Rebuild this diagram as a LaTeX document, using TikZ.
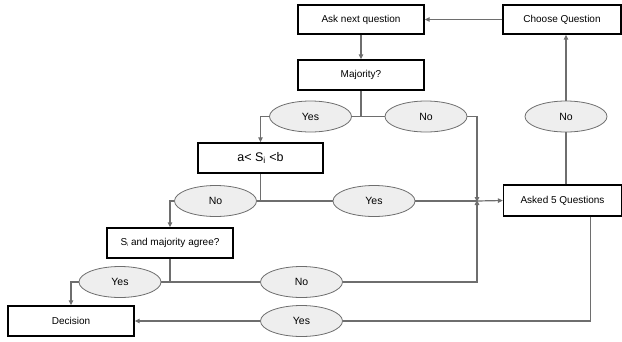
\documentclass[tikz,border=0pt]{standalone}
\usepackage{fontspec}
\setmainfont{Liberation Sans}
\usetikzlibrary{arrows.meta,shapes.geometric}
\definecolor{linegray}{HTML}{6E6E6E}
\definecolor{ellfill}{HTML}{EEEEEE}
\tikzset{
  box/.style={draw=black, line width=1.3pt, fill=white, inner sep=0pt, font=\fontsize{10}{12}\selectfont},
  oval/.style={ellipse, draw=linegray, line width=0.8pt, fill=ellfill, minimum width=82pt, minimum height=31pt, inner sep=0pt, font=\fontsize{10.5}{12}\selectfont},
  conn/.style={draw=linegray, line width=1.2pt},
  arr/.style={conn, -{Triangle[length=5pt,width=4.5pt]}},
}
\begin{document}
\begin{tikzpicture}[x=1pt,y=-1pt]
\useasboundingbox (0,0) rectangle (622,341);
% boxes
\node[box, minimum width=126pt, minimum height=29pt] (ask) at (361,19.5) {Ask next question};
\node[box, minimum width=118pt, minimum height=29pt] (choose) at (562,19.5) {Choose Question};
\node[box, minimum width=126pt, minimum height=30pt] (maj) at (361,75) {Majority?};
\node[box, minimum width=125pt, minimum height=30pt, font=\fontsize{12.5}{14}\selectfont] (ab) at (260.5,158) {a< S\textsubscript{i} <b};
\node[box, minimum width=118pt, minimum height=31pt] (asked) at (562.5,200.5) {Asked 5 Questions};
\node[box, minimum width=126pt, minimum height=30pt] (si) at (170,243) {S{\fontsize{4.5}{5}\selectfont\raisebox{-0.5pt}{i}}\ and majority agree?};
\node[box, minimum width=126pt, minimum height=30pt] (dec) at (71,321) {Decision};
% ovals
\node[oval] (y1) at (310.5,116.5) {Yes};
\node[oval] (n1) at (426,116.5) {No};
\node[oval] (n4) at (566,116.5) {No};
\node[oval] (n2) at (215.5,201) {No};
\node[oval] (y2) at (374,201) {Yes};
\node[oval] (y3) at (120,282) {Yes};
\node[oval] (n3) at (301.5,282) {No};
\node[oval] (y4) at (301.5,321) {Yes};
\coordinate (j) at (477,201);
% connectors
\draw[arr] (choose.west) -- (ask.east);
\draw[arr] (ask.south) -- (maj.north);
\draw[conn] (maj.south) -- (maj.south |- y1.east);
\draw[conn] (y1.east) -- (n1.west);
\draw[arr] (y1.west) -| (ab.north);
\draw[arr] (n1.east) -| ([yshift=-1pt]j);
\draw[conn] (ab.south) -- (ab.south |- n2.east);
\draw[conn] (n2.east) -- (y2.west);
\draw[arr] (n2.west) -| (si.north);
\draw[conn] (y2.east) -- (j);
\draw[arr] (j) -- (asked.west);
\draw[conn] (si.south) -- (si.south |- y3.east);
\draw[conn] (y3.east) -- (n3.west);
\draw[arr] (y3.west) -| (dec.north);
\draw[arr] (n3.east) -| ([yshift=1pt]j);
\draw[conn] (asked.north -| n4.south) -- (n4.south);
\draw[arr] (n4.north) -- (choose.south -| n4.north);
\draw[conn] ([xshift=28pt]asked.south) |- (y4.east);
\draw[arr] (y4.west) -- (dec.east);
\end{tikzpicture}
\end{document}
